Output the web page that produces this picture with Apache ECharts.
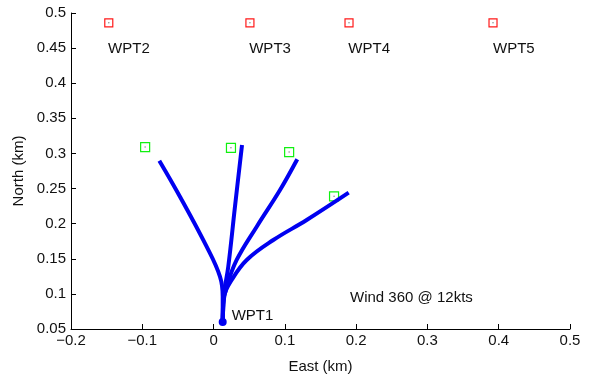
<!DOCTYPE html>
<html>
<head>
<meta charset="utf-8">
<script src="https://cdn.jsdelivr.net/npm/echarts@6/dist/echarts.min.js"></script>
<style>
  html, body { margin: 0; padding: 0; background: #fff; }
  #chart { width: 595px; height: 379px; }
</style>
</head>
<body>
<div id="chart"></div>
<script>
// waypoints (red) and their labels
const wptNames = ['WPT2', 'WPT3', 'WPT4', 'WPT5'];
const wptX = [-0.147, 0.051, 0.19, 0.392];
const wptY = [0.486, 0.486, 0.486, 0.486];
const wptLabelX = [-0.148, 0.050, 0.189, 0.392];
const wptLabelY = [0.449, 0.449, 0.449, 0.449];

// targets (green)
const tgtX = [-0.096, 0.0244, 0.106, 0.169];
const tgtY = [0.309, 0.308, 0.302, 0.239];

// tracks from WPT1
const start = [0.0128, 0.060];
const track1 = [[0.0128, 0.060], [0.0128, 0.0675], [0.0128, 0.096], [0.009, 0.1245], [-0.0097, 0.1672], [-0.0471, 0.2384], [-0.0761, 0.2897]];
const track2 = [[0.0128, 0.060], [0.0135, 0.080], [0.0146, 0.1008], [0.0206, 0.1387], [0.030, 0.2242], [0.0399, 0.312]];
const track3 = [[0.0128, 0.060], [0.0135, 0.085], [0.0184, 0.1102], [0.0324, 0.1483], [0.0605, 0.1957], [0.0932, 0.2479], [0.1174, 0.2917]];
const track4 = [[0.0128, 0.060], [0.0135, 0.080], [0.0146, 0.096], [0.0254, 0.1198], [0.0465, 0.1483], [0.0838, 0.1767], [0.1306, 0.2052], [0.1895, 0.2441]];

const notes = [
  { name: 'WPT1', value: [0.0254, 0.069] },
  { name: 'Wind 360 @ 12kts', value: [0.1914, 0.0937] }
];

const chart = echarts.init(document.getElementById('chart'));
const font = 'Liberation Sans, Arial, sans-serif';
const blue = '#0000f0';
const txt = '#111';

const trackSeries = [track1, track2, track3, track4].map(t => ({
  type: 'line',
  data: t,
  smooth: 0.4,
  symbol: 'none',
  lineStyle: { color: blue, width: 4 },
  z: 3
}));

chart.setOption({
  animation: false,
  grid: { left: 71, right: 25, top: 13, bottom: 50 },
  xAxis: {
    type: 'value', min: -0.2, max: 0.5, interval: 0.1,
    name: 'East (km)', nameLocation: 'middle', nameGap: 30,
    nameTextStyle: { color: txt, fontSize: 15, fontFamily: font },
    axisLine: { show: true, onZero: false, lineStyle: { color: '#000' } },
    axisTick: { show: true, inside: true, length: 5, lineStyle: { color: '#000' } },
    axisLabel: {
      color: txt, fontSize: 15, fontFamily: font, margin: 4,
      formatter: v => String(Math.round(v * 10) / 10).replace('-', '\u2212')
    },
    splitLine: { show: false }
  },
  yAxis: {
    type: 'value', min: 0.05, max: 0.5, interval: 0.05,
    name: 'North (km)', nameLocation: 'middle', nameGap: 41,
    nameTextStyle: { color: txt, fontSize: 15, fontFamily: font },
    axisLine: { show: true, onZero: false, lineStyle: { color: '#000' } },
    axisTick: { show: true, inside: true, length: 5, lineStyle: { color: '#000' } },
    axisLabel: {
      color: txt, fontSize: 15, fontFamily: font, margin: 5,
      formatter: v => String(Math.round(v * 100) / 100)
    },
    splitLine: { show: false }
  },
  series: [
    ...trackSeries,
    {
      type: 'scatter',
      data: [start],
      symbol: 'circle', symbolSize: 8,
      itemStyle: { color: blue, opacity: 1 },
      z: 4
    },
    {
      type: 'scatter',
      data: wptX.map((x, i) => [x, wptY[i]]),
      symbol: 'rect', symbolSize: 8,
      itemStyle: { color: 'rgba(0,0,0,0)', borderColor: '#ff1a1a', borderWidth: 1.2, opacity: 1 }
    },
    {
      type: 'scatter',
      data: tgtX.map((x, i) => [x, tgtY[i]]),
      symbol: 'rect', symbolSize: 9,
      itemStyle: { color: 'rgba(0,0,0,0)', borderColor: '#10f010', borderWidth: 1.2, opacity: 1 }
    },
    {
      type: 'scatter',
      data: wptX.map((x, i) => [x, wptY[i]]).concat(tgtX.map((x, i) => [x, tgtY[i]])),
      symbol: 'circle', symbolSize: 1.5,
      itemStyle: { color: '#888', opacity: 1 }
    },
    {
      type: 'scatter',
      data: wptNames.map((n, i) => ({ name: n, value: [wptLabelX[i], wptLabelY[i]] })).concat(notes),
      symbolSize: 0,
      itemStyle: { opacity: 1 },
      label: {
        show: true, position: [0, 0], align: 'left', verticalAlign: 'middle',
        formatter: p => p.name,
        color: txt, fontSize: 15, fontFamily: font
      }
    }
  ]
});
</script>
</body>
</html>
